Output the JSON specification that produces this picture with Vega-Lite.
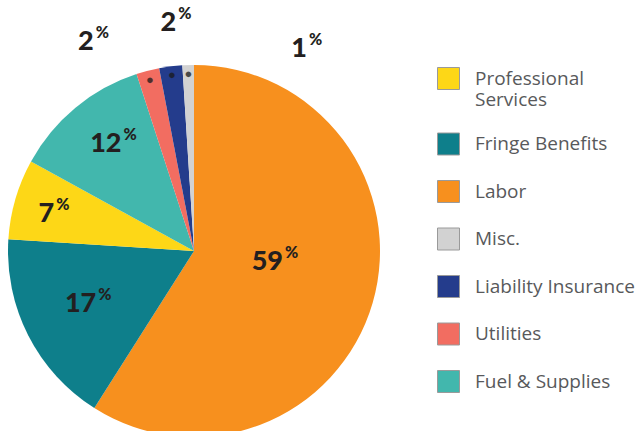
{
  "$schema": "https://vega.github.io/schema/vega-lite/v6.json",
  "autosize": {"type": "none"},
  "padding": {"left": 0, "top": 71, "right": 253, "bottom": 0},
  "width": 388,
  "height": 360,
  "background": "#ffffff",
  "config": {"view": {"stroke": null}},
  "data": {
    "values": [
      {"cat": "Labor", "value": 59, "ord": 1},
      {"cat": "Fringe Benefits", "value": 17, "ord": 2},
      {"cat": "Professional Services", "value": 7, "ord": 3},
      {"cat": "Fuel & Supplies", "value": 12, "ord": 4},
      {"cat": "Utilities", "value": 2, "ord": 5},
      {"cat": "Liability Insurance", "value": 2, "ord": 6},
      {"cat": "Misc.", "value": 1, "ord": 7}
    ]
  },
  "encoding": {
    "theta": {"field": "value", "type": "quantitative", "stack": true},
    "order": {"field": "ord", "type": "quantitative"}
  },
  "layer": [
    {
      "mark": {"type": "arc", "outerRadius": 186},
      "encoding": {
        "color": {
          "field": "cat",
          "type": "nominal",
          "scale": {
            "domain": ["Professional Services", "Fringe Benefits", "Labor", "Misc.", "Liability Insurance", "Utilities", "Fuel & Supplies"],
            "range": ["#FDD717", "#0E7F8B", "#F7901E", "#D2D2D2", "#243C8C", "#F26D61", "#42B7AD"]
          },
          "legend": {
            "title": null,
            "orient": "none",
            "legendX": 437,
            "legendY": -4,
            "symbolType": "square",
            "symbolSize": 484,
            "symbolStrokeColor": "#9a9a9a",
            "symbolStrokeWidth": 1,
            "labelFont": "Open Sans",
            "labelFontSize": 19,
            "labelColor": "#58595B",
            "labelOffset": 15,
            "labelLimit": 300,
            "rowPadding": 20.5,
            "labelExpr": "datum.label === 'Professional Services' ? ['Professional', 'Services'] : datum.label"
          }
        }
      }
    },
    {
      "mark": {"type": "text", "radius": 177, "fontSize": 13, "color": "#1a1a1a", "opacity": 0.75, "baseline": "middle", "align": "center"},
      "encoding": {
        "text": {"condition": {"test": "datum.ord >= 5", "value": "●"}, "value": ""}
      }
    },
    {
      "mark": {"type": "text", "radius": 90, "dx": 2.6, "dy": -14, "align": "right", "baseline": "middle", "font": "Lato", "fontWeight": 900, "fontSize": 27, "color": "#231F20"},
      "encoding": {"text": {"condition": {"test": "datum.cat === 'Labor'", "field": "value", "type": "quantitative"}, "value": ""}}
    },
    {
      "mark": {"type": "text", "radius": 90, "dx": 4.6, "dy": -23, "align": "left", "baseline": "middle", "font": "Lato", "fontWeight": 900, "fontSize": 16, "color": "#231F20"},
      "encoding": {"text": {"condition": {"test": "datum.cat === 'Labor'", "value": "%"}, "value": ""}}
    },
    {
      "mark": {"type": "text", "radius": 108, "dx": -1.5, "dy": 4, "align": "right", "baseline": "middle", "font": "Lato", "fontWeight": 900, "fontSize": 27, "color": "#231F20"},
      "encoding": {"text": {"condition": {"test": "datum.cat === 'Fringe Benefits'", "field": "value", "type": "quantitative"}, "value": ""}}
    },
    {
      "mark": {"type": "text", "radius": 108, "dx": 0.5, "dy": -5, "align": "left", "baseline": "middle", "font": "Lato", "fontWeight": 900, "fontSize": 16, "color": "#231F20"},
      "encoding": {"text": {"condition": {"test": "datum.cat === 'Fringe Benefits'", "value": "%"}, "value": ""}}
    },
    {
      "mark": {"type": "text", "radius": 144, "dx": -1.5, "dy": 3, "align": "right", "baseline": "middle", "font": "Lato", "fontWeight": 900, "fontSize": 27, "color": "#231F20"},
      "encoding": {"text": {"condition": {"test": "datum.cat === 'Professional Services'", "field": "value", "type": "quantitative"}, "value": ""}}
    },
    {
      "mark": {"type": "text", "radius": 144, "dx": 0.5, "dy": -6, "align": "left", "baseline": "middle", "font": "Lato", "fontWeight": 900, "fontSize": 16, "color": "#231F20"},
      "encoding": {"text": {"condition": {"test": "datum.cat === 'Professional Services'", "value": "%"}, "value": ""}}
    },
    {
      "mark": {"type": "text", "radius": 131, "dx": 11, "dy": -6.5, "align": "right", "baseline": "middle", "font": "Lato", "fontWeight": 900, "fontSize": 27, "color": "#231F20"},
      "encoding": {"text": {"condition": {"test": "datum.cat === 'Fuel & Supplies'", "field": "value", "type": "quantitative"}, "value": ""}}
    },
    {
      "mark": {"type": "text", "radius": 131, "dx": 13, "dy": -15.5, "align": "left", "baseline": "middle", "font": "Lato", "fontWeight": 900, "fontSize": 16, "color": "#231F20"},
      "encoding": {"text": {"condition": {"test": "datum.cat === 'Fuel & Supplies'", "value": "%"}, "value": ""}}
    },
    {
      "mark": {"type": "text", "radius": 210, "dx": -48, "dy": -5.1, "align": "right", "baseline": "middle", "font": "Lato", "fontWeight": 900, "fontSize": 27, "color": "#231F20"},
      "encoding": {"text": {"condition": {"test": "datum.cat === 'Utilities'", "field": "value", "type": "quantitative"}, "value": ""}}
    },
    {
      "mark": {"type": "text", "radius": 210, "dx": -46, "dy": -14.1, "align": "left", "baseline": "middle", "font": "Lato", "fontWeight": 900, "fontSize": 16, "color": "#231F20"},
      "encoding": {"text": {"condition": {"test": "datum.cat === 'Utilities'", "value": "%"}, "value": ""}}
    },
    {
      "mark": {"type": "text", "radius": 210, "dx": 8.5, "dy": -19.7, "align": "right", "baseline": "middle", "font": "Lato", "fontWeight": 900, "fontSize": 27, "color": "#231F20"},
      "encoding": {"text": {"condition": {"test": "datum.cat === 'Liability Insurance'", "field": "value", "type": "quantitative"}, "value": ""}}
    },
    {
      "mark": {"type": "text", "radius": 210, "dx": 10.5, "dy": -28.7, "align": "left", "baseline": "middle", "font": "Lato", "fontWeight": 900, "fontSize": 16, "color": "#231F20"},
      "encoding": {"text": {"condition": {"test": "datum.cat === 'Liability Insurance'", "value": "%"}, "value": ""}}
    },
    {
      "mark": {"type": "text", "radius": 210, "dx": 119.6, "dy": 7.4, "align": "right", "baseline": "middle", "font": "Lato", "fontWeight": 900, "fontSize": 27, "color": "#231F20"},
      "encoding": {"text": {"condition": {"test": "datum.cat === 'Misc.'", "field": "value", "type": "quantitative"}, "value": ""}}
    },
    {
      "mark": {"type": "text", "radius": 210, "dx": 121.6, "dy": -1.6, "align": "left", "baseline": "middle", "font": "Lato", "fontWeight": 900, "fontSize": 16, "color": "#231F20"},
      "encoding": {"text": {"condition": {"test": "datum.cat === 'Misc.'", "value": "%"}, "value": ""}}
    }
  ]
}
